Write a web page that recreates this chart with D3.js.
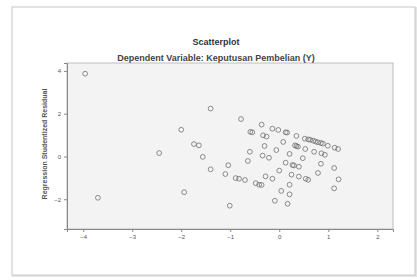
<!DOCTYPE html>
<html><head><meta charset="utf-8">
<script src="https://cdn.jsdelivr.net/npm/d3@7"></script>
<style>body{margin:0;background:#fff}svg{display:block}</style>
</head><body>
<svg id="c" width="417" height="280"></svg>
<script>
const title = "Scatterplot";
const subtitle = "Dependent Variable: Keputusan Pembelian (Y)";
const xLabel = "Regression Standardized Predicted Value";
const yLabel = "Regression Studentized Residual";
const xTicks = [-4, -3, -2, -1, 0, 1, 2];
const yTicks = [-2, 0, 2, 4];
const predicted = [-3.96,-3.70,-2.45,-2.00,-1.94,-1.74,-1.64,-1.56,-1.40,-1.40,-1.10,-1.04,-1.01,-0.89,-0.82,-0.70,-0.78,-0.64,-0.60,-0.59,-0.55,-0.48,-0.41,-0.36,-0.36,-0.34,-0.33,-0.26,-0.30,-0.28,-0.21,-0.14,-0.14,-0.09,-0.06,-0.02,0.00,0.04,0.08,0.13,0.16,0.13,0.17,0.21,0.21,0.21,0.25,0.27,0.30,0.32,0.35,0.38,0.35,0.40,0.40,0.48,0.52,0.59,0.63,0.69,0.74,0.79,0.85,0.89,0.99,0.53,0.54,0.59,0.71,0.79,0.85,0.86,0.93,1.12,1.12,1.13,1.20,1.21];
const residual = [3.87,-1.93,0.16,1.25,-1.67,0.58,0.52,-0.02,2.24,-0.60,-0.82,-0.41,-2.30,-1.01,-1.04,-1.10,1.75,-0.21,0.22,1.15,1.13,-1.25,-1.32,-1.33,1.49,0.04,0.99,0.93,0.49,-0.93,-0.06,1.30,-1.04,-2.07,0.30,1.24,-0.66,-1.61,0.68,1.13,1.12,-0.29,-2.21,0.12,-1.32,-1.77,-0.85,-0.40,-0.42,0.52,0.49,0.46,0.96,-0.48,-0.94,-0.08,0.83,0.80,0.78,0.74,0.70,0.66,0.63,0.60,0.50,0.35,-1.04,-1.09,0.22,-0.77,-0.34,0.15,0.08,-0.54,-1.49,0.41,0.35,-1.07];

const svg = d3.select("#c");
const font = "'Liberation Sans', Arial, sans-serif";

// outer frame
svg.append("rect").attr("x",13).attr("y",8).attr("width",403).attr("height",268)
  .attr("fill","none").attr("stroke","#e4e4e4").attr("stroke-width",2);
svg.append("rect").attr("x",12).attr("y",7).attr("width",403).attr("height",268)
  .attr("fill","#fff").attr("stroke","#c8c8c8").attr("stroke-width",1);

const L = 67, R = 393, T = 63, B = 229;
const x = d3.scaleLinear().domain([-4.33, 2.32]).range([L, R]);
const y = d3.scaleLinear().domain([-3.39, 4.37]).range([B, T]);

svg.append("rect").attr("x",L).attr("y",T).attr("width",R-L).attr("height",B-T)
  .attr("fill","#f3f3f3").attr("stroke","#bdbdbd").attr("stroke-width",1);

svg.append("text").attr("x",216).attr("y",45).attr("text-anchor","middle")
  .attr("font-family",font).attr("font-size",9).attr("font-weight","bold").attr("fill","#333").text(title);
svg.append("text").attr("x",216).attr("y",61).attr("text-anchor","middle")
  .attr("font-family",font).attr("font-size",9).attr("font-weight","bold").attr("fill","#444").text(subtitle);

const xa = svg.append("g").attr("transform",`translate(0,${B})`)
  .call(d3.axisBottom(x).tickValues(xTicks).tickSize(3).tickFormat(d3.format("d")));
const ya = svg.append("g").attr("transform",`translate(${L},0)`)
  .call(d3.axisLeft(y).tickValues(yTicks).tickSize(3).tickFormat(d3.format("d")));
[xa, ya].forEach(a => {
  a.select(".domain").attr("stroke","#888");
  a.selectAll(".tick line").attr("stroke","#888");
  a.selectAll(".tick text").attr("font-family",font).attr("font-size",6).attr("fill","#555");
});

svg.append("text").attr("transform",`translate(47,${(T+B)/2-2}) rotate(-90)`).attr("text-anchor","middle")
  .attr("font-family",font).attr("font-size",7).attr("font-weight","bold").attr("fill","#555").text(yLabel);

svg.append("clipPath").attr("id","xl").append("rect").attr("x",0).attr("y",0).attr("width",417).attr("height",245.5);
svg.append("text").attr("x",231).attr("y",251).attr("text-anchor","middle").attr("clip-path","url(#xl)")
  .attr("font-family",font).attr("font-size",8).attr("font-weight","bold").attr("fill","#777").text(xLabel);

svg.append("g").selectAll("circle").data(predicted.map((p,i)=>[p, residual[i]])).join("circle")
  .attr("cx",d=>x(d[0])).attr("cy",d=>y(d[1])).attr("r",2.4)
  .attr("fill","none").attr("stroke","#6a6a6a").attr("stroke-opacity",0.75).attr("stroke-width",1);
</script>
</body></html>
